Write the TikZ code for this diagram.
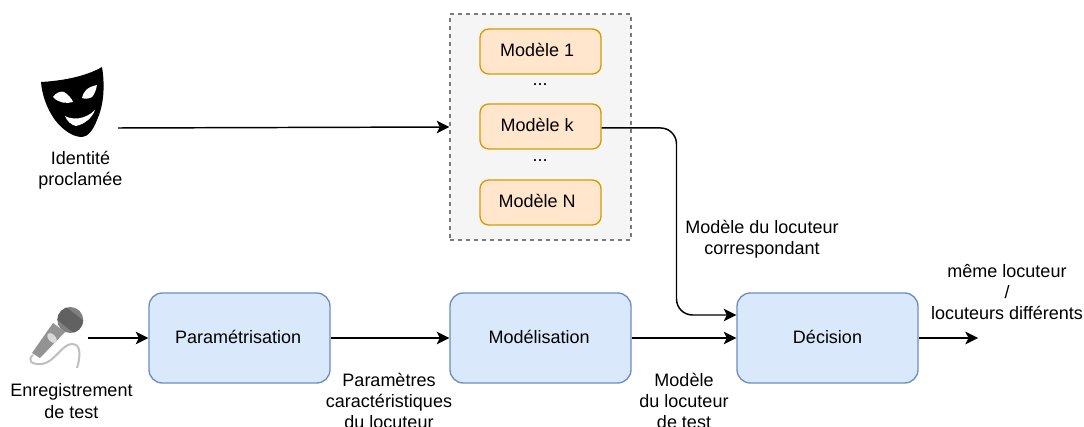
\documentclass[tikz,border=0pt]{standalone}
\usepackage{fontspec}
\setmainfont{Liberation Sans}
\usepackage{xcolor}
\usepackage{tikz}
\usetikzlibrary{positioning,arrows.meta}

\definecolor{blocfill}{HTML}{DAE8FC}
\definecolor{blocdraw}{HTML}{6C8EBF}
\definecolor{modelefill}{HTML}{FFE6CC}
\definecolor{modeledraw}{HTML}{D79B00}
\definecolor{stockfill}{HTML}{F5F5F5}
\definecolor{stockdraw}{HTML}{7A7A7A}

\begin{document}
\begin{tikzpicture}
                [x=0.75pt,y=-0.75pt,
                 every node/.style = {font=\fontsize{13.5}{16}\selectfont,align=center,inner sep=0pt},
                 bloc/.style = {draw=blocdraw,fill=blocfill,line width=1pt,rounded corners=10pt,minimum width=135.75pt,minimum height=67.5pt,text height=10.7pt,text depth=2.5pt},
                 modele/.style = {draw=modeledraw,fill=modelefill,line width=1pt,rounded corners=6.5pt,minimum width=90.75pt,minimum height=33.75pt,text height=10.7pt,text depth=2.5pt},
                 stock/.style = {draw=stockdraw,fill=stockfill,line width=1pt,dash pattern=on 3pt off 3pt,minimum width=135.75pt,minimum height=169.5pt},
                 fleche/.style = {-{Stealth[length=9.5pt,width=9.5pt,inset=2.4pt]},line width=1.1pt,black}]

                \useasboundingbox (0,0) rectangle (1084,427);

                % modeles
                \node[stock] (stock) at (540.5,127) {};
                \node[modele] (modele1) at (540.5,51.5) {Modèle 1\hspace*{5pt}};
                \node (points1) at (540,85) {...};
                \node[modele] (modelek) at (540.5,126.5) {Modèle k\hspace*{5pt}};
                \node (points2) at (540,161) {...};
                \node[modele] (modeleN) at (540.5,202.5) {Modèle N\hspace*{5pt}};

                % blocs
                \node[bloc] (param) at (239.5,338) {Paramétrisation\hspace*{2pt}};
                \node[bloc] (modelisation) at (540.5,338) {Modélisation\hspace*{2pt}};
                \node[bloc] (decision) at (827.5,338) {Décision};

                % masque
                \fill[black] (41,82) .. controls (60,81) and (85,77) .. (102,67)
                    .. controls (105,85) and (104,105) .. (97,120)
                    .. controls (93,131) and (87,137) .. (82,137)
                    .. controls (72,137) and (62,129) .. (55,120)
                    .. controls (47,109) and (42,95) .. (41,82) -- cycle;
                \fill[white] (53,97) .. controls (56,92) and (62,91) .. (64,92)
                    .. controls (68,94) and (72,99) .. (73,102)
                    .. controls (67,104) and (58,103) .. (53,97) -- cycle;
                \fill[white] (82,98) .. controls (83,92) and (87,87) .. (97,85)
                    .. controls (96,91) and (94,95) .. (92,97)
                    .. controls (89,99) and (85,99) .. (82,98) -- cycle;
                \fill[white] (65,116) .. controls (72,120) and (85,120) .. (95,110)
                    .. controls (92,118) and (85,124) .. (76,126)
                    .. controls (71,125) and (67,121) .. (65,116) -- cycle;
                \node (identite) at (80.5,170.5) {Identité\\proclamée};

                % micro
                \draw[lightgray,line width=1.5pt] (33,355) .. controls (27,360) and (31,365) .. (42,364)
                    .. controls (55,362) and (62,344) .. (72,344)
                    .. controls (82,344) and (80,358) .. (77,368);
                \fill[gray!85] (32,353) -- (40,358) -- (65,332) -- (53,323) -- cycle;
                \fill[gray!30,rotate around={-47:(52,338)}] (52,338) ellipse (6 and 3.5);
                \fill[gray] (70.3,320) circle (13);
                \begin{scope}
                    \clip (70.3,320) circle (13);
                    \fill[black!62] (55,318) -- (65,306) -- (90,326) -- (80,338) -- cycle;
                \end{scope}
                \node (enregistrement) at (71.5,401) {Enregistrement\\de test};

                % etiquettes
                \node (parametres) at (389,401) {Paramètres\\caractéristiques\\du locuteur};
                \node (modeletest) at (684,401) {Modèle\\du locuteur\\de test};
                \node (correspondant) at (762,239) {Modèle du locuteur\\correspondant};
                \node (resultat) at (1007,292) {même locuteur\\/\\locuteurs différents};

                % bouts libres
                \coordinate (masque) at (118,128);
                \coordinate (micro) at (88,338);
                \coordinate (sortie) at (978,338);
                \coordinate (coude) at (676.5,315);

                \path[fleche] (masque) edge (stock.west);
                \path[fleche] (micro) edge (param.west);
                \path[fleche] (param) edge (modelisation);
                \path[fleche] (modelisation) edge (decision);
                \path[fleche] (decision) edge (sortie);
                \draw[fleche,rounded corners=12pt] ([yshift=-1.1pt]modelek.east) -| (coude) -- (coude -| decision.west);

            \end{tikzpicture}
\end{document}
